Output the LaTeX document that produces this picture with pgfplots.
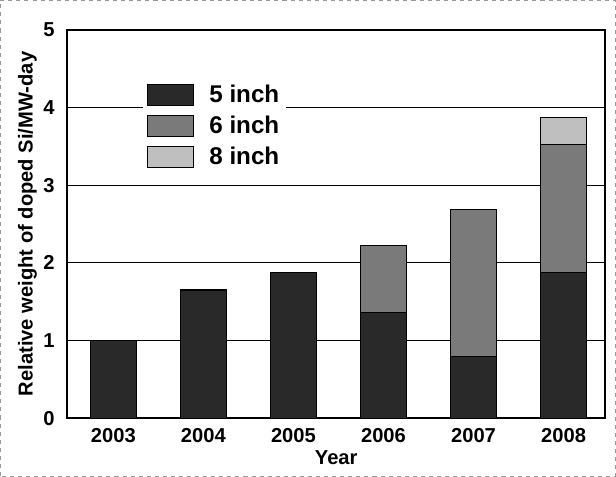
\documentclass[border=0pt]{standalone}
\usepackage{fontspec}
\setmainfont{Liberation Sans}
\usepackage{pgfplots}
\pgfplotsset{compat=1.18}
\begin{document}
\begin{tikzpicture}
  \begin{axis}[
    scale only axis,
    width=400pt, height=289pt,
    ybar stacked,
    bar width=0.51,
    xmin=-0.51, xmax=5.46,
    ymin=0, ymax=5,
    xtick={0,1,2,3,4,5},
    xticklabels={2003,2004,2005,2006,2007,2008},
    ytick={0,1,2,3,4,5},
    ymajorgrids,
    grid style={black, line width=0.8pt},
    major tick length=0pt,
    axis line style={line width=1.5pt},
    /pgf/number format/assume math mode=true,
    tick label style={font=\bfseries\fontsize{15}{17}\selectfont},
    xticklabel style={yshift=-4pt},
    yticklabel style={xshift=-6pt},
    xlabel={Year},
    ylabel={Relative weight of doped Si/MW-day},
    label style={font=\bfseries\fontsize{15}{17}\selectfont},
    xlabel style={yshift=1pt},
    ylabel style={yshift=-2pt},
    legend cell align=left,
    legend style={at={(0.14,0.875)}, anchor=north west, draw=none, fill=white,
      font=\bfseries\fontsize{18}{20}\selectfont, row sep=4.5pt,
      inner sep=3pt},
    legend image code/.code={\draw[#1, draw=black, line width=0.8pt] (0pt,-8pt) rectangle (34pt,8pt);
      \path[draw=none, fill=none] (34pt,0pt) circle[radius=0pt] (44pt,0pt) circle[radius=0pt];},
    every axis plot/.append style={draw=black, line width=0.8pt},
  ]
    \addplot[fill=black!84] coordinates {(0,1.00) (1,1.65) (2,1.88) (3,1.36) (4,0.79) (5,1.88)};
    \addplot[fill=black!52] coordinates {(0,0) (1,0) (2,0) (3,0.86) (4,1.90) (5,1.64)};
    \addplot[fill=black!25] coordinates {(0,0) (1,0) (2,0) (3,0) (4,0) (5,0.35)};
    \legend{5 inch, 6 inch, 8 inch}
  \end{axis}
  \draw[black!40, dashed, line width=0.4pt]
    ([xshift=-50pt,yshift=-43pt]current axis.south west) rectangle
    ([xshift=8pt,yshift=22pt]current axis.north east);
\end{tikzpicture}
\end{document}
